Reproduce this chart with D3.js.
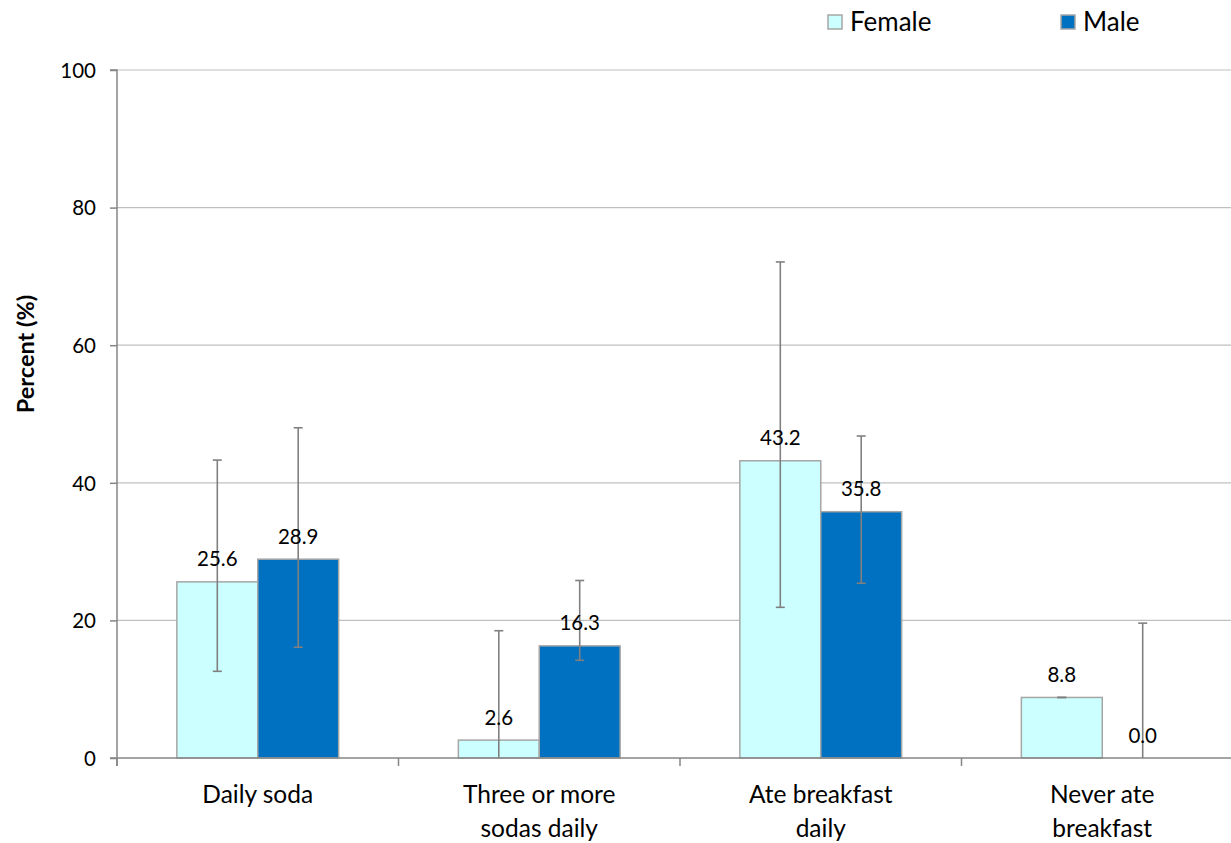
<!DOCTYPE html>
<html><head><meta charset="utf-8">
<script src="https://cdn.jsdelivr.net/npm/d3@7"></script>
<style>body{margin:0;background:#fff}svg{display:block}text{font-family:Lato,"Open Sans",sans-serif;fill:#000}</style>
</head><body><svg id="c" width="1231" height="843"></svg>
<script>
const categories = [["Daily soda"], ["Three or more", "sodas daily"], ["Ate breakfast", "daily"], ["Never ate", "breakfast"]];
const seriesNames = ["Female", "Male"];
const femaleValues = [25.6, 2.6, 43.2, 8.8];
const maleValues = [28.9, 16.3, 35.8, 0.0];
const femaleLow = [12.6, 0, 21.9, 8.8];
const femaleHigh = [43.3, 18.5, 72.1, 8.8];
const maleLow = [16.1, 14.2, 25.4, 0];
const maleHigh = [48.0, 25.8, 46.8, 19.6];
const yTicks = [0, 20, 40, 60, 80, 100];
const colors = ["#ccffff", "#0070c0"];

const svg = d3.select("#c");
const pL = 117, pR = 1243, pT = 70, pB = 758;
const x = d3.scaleBand().domain(d3.range(categories.length)).range([pL, pR]);
const inner = d3.scaleBand().domain([0, 1]).range([0, x.bandwidth()]).paddingOuter(0.74).paddingInner(0);
const y = d3.scaleLinear().domain([0, 100]).range([pB, pT]);

// gridlines
svg.append("g").selectAll("line").data(yTicks.filter(d => d > 0)).join("line")
  .attr("x1", pL).attr("x2", pR).attr("y1", d => y(d)).attr("y2", d => y(d))
  .attr("stroke", "#bfbfbf").attr("stroke-width", 1.2);

const series = [
  {vals: femaleValues, lo: femaleLow, hi: femaleHigh},
  {vals: maleValues, lo: maleLow, hi: maleHigh}
];

series.forEach((s, si) => {
  const g = svg.append("g");
  g.selectAll("rect").data(s.vals).join("rect")
    .attr("x", (d, i) => x(i) + inner(si))
    .attr("width", inner.bandwidth())
    .attr("y", d => y(d))
    .attr("height", d => y(0) - y(d))
    .attr("fill", colors[si])
    .attr("stroke", "#a6a6a6").attr("stroke-width", 1.5)
    .attr("display", d => d > 0 ? null : "none");
});

// error bars
series.forEach((s, si) => {
  const g = svg.append("g").attr("stroke", "#808080").attr("stroke-width", 1.6);
  s.vals.forEach((v, i) => {
    const cx = x(i) + inner(si) + inner.bandwidth() / 2;
    g.append("line").attr("x1", cx).attr("x2", cx).attr("y1", y(s.lo[i])).attr("y2", y(s.hi[i]));
    [s.lo[i], s.hi[i]].forEach(t => {
      if (t > 0) g.append("line").attr("x1", cx - 4.5).attr("x2", cx + 4.5).attr("y1", y(t)).attr("y2", y(t));
    });
  });
});

// value labels
series.forEach((s, si) => {
  svg.append("g").selectAll("text").data(s.vals).join("text")
    .attr("x", (d, i) => x(i) + inner(si) + inner.bandwidth() / 2)
    .attr("y", d => y(d) - 15.5)
    .attr("text-anchor", "middle").attr("font-size", 20.5)
    .text(d => d.toFixed(1));
});

// axes
const yAxis = d3.axisLeft(y).tickValues(yTicks).tickSize(7).tickPadding(6);
const ya = svg.append("g").attr("transform", `translate(${pL},0)`).call(yAxis);
ya.select(".domain").attr("stroke", "#868686").attr("stroke-width", 1.5).attr("d", `M-7,${pT}H0V${pB + 8}`);
ya.selectAll(".tick line").attr("stroke", "#868686").attr("stroke-width", 1.5);
ya.selectAll(".tick text").attr("font-size", 20.5).attr("font-family", "Lato,'Open Sans',sans-serif").attr("fill", "#000").attr("dy", "0.36em").attr("x", -21);

const xa = svg.append("g");
xa.append("line").attr("x1", pL - 7).attr("x2", pR).attr("y1", pB).attr("y2", pB).attr("stroke", "#868686").attr("stroke-width", 1.5);
xa.selectAll("line.t").data(d3.range(categories.length + 1)).join("line").attr("class", "t")
  .attr("x1", i => pL + i * x.step()).attr("x2", i => pL + i * x.step())
  .attr("y1", pB).attr("y2", pB + 8).attr("stroke", "#868686").attr("stroke-width", 1.5);
categories.forEach((lines, i) => {
  const t = xa.append("text").attr("text-anchor", "middle").attr("font-size", 24.5)
    .attr("x", x(i) + x.bandwidth() / 2).attr("y", 803);
  lines.forEach((ln, j) => t.append("tspan").attr("x", x(i) + x.bandwidth() / 2).attr("dy", j ? 34 : 0).text(ln));
});

// y title
svg.append("text").attr("transform", "translate(34,354) rotate(-90)")
  .attr("text-anchor", "middle").attr("font-size", 23.5).attr("font-weight", "bold").text("Percent (%)");

// legend
const legX = [828, 1061];
seriesNames.forEach((n, i) => {
  svg.append("rect").attr("x", legX[i]).attr("y", 15).attr("width", 14).attr("height", 14)
    .attr("fill", colors[i]).attr("stroke", "#a6a6a6").attr("stroke-width", 1.5);
  svg.append("text").attr("x", legX[i] + 22).attr("y", 30.5).attr("font-size", 26).text(n);
});
</script></body></html>
